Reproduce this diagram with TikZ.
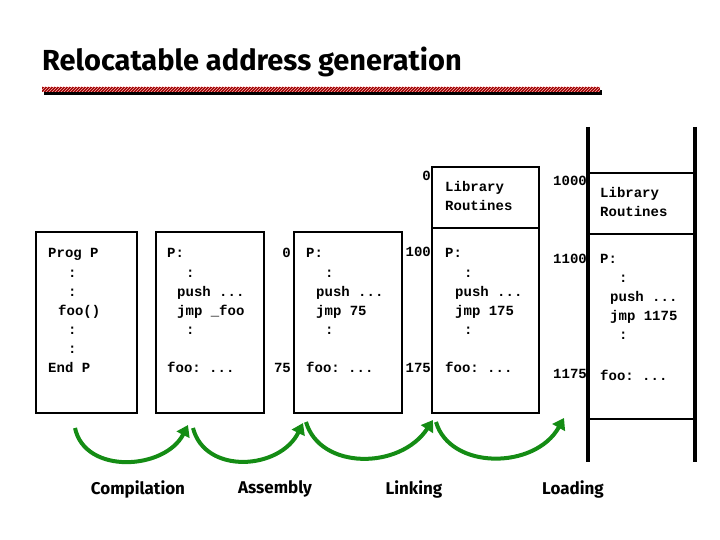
\documentclass[tikz,border=0pt]{standalone}
\usepackage{fontspec}
\setmonofont{Liberation Mono}
\newfontfamily\hand{Fira Sans}
\usetikzlibrary{arrows.meta,patterns}
\begin{document}
\begin{tikzpicture}[x=1pt,y=-1pt,
  box/.style={draw,line width=1.2pt},
  code/.style={anchor=base west,font=\ttfamily\bfseries\fontsize{14}{14}\selectfont,inner sep=0},
  addr/.style={anchor=base east,font=\ttfamily\bfseries\fontsize{14}{14}\selectfont,inner sep=0},
  stagelbl/.style={font=\hand\bfseries\fontsize{17}{17}\selectfont},
  flow/.style={draw={rgb,255:red,20;green,140;blue,20},line width=4pt,-{Triangle[length=11pt,width=14pt]}}]
\useasboundingbox (0,0) rectangle (720,540);
\node[anchor=base west,font=\hand\bfseries\fontsize{29}{29}\selectfont,inner sep=0] (title) at (42,71) {Relocatable address generation};
\fill[black] (44,90) rectangle (602,95);
\fill[red!60!black] (42,87) rectangle (600,92);
\fill[pattern=north east lines,pattern color=white!70!red] (42,87) rectangle (600,92);
% boxes
\draw[box] (36,232) rectangle (137,413);
\draw[box] (156,232) rectangle (264,413);
\draw[box] (294,232) rectangle (402,413);
\draw[box] (432,167) rectangle (539,413);
\draw[box] (432,228) -- (539,228);
\draw[line width=3.5pt] (588,127) -- (588,462);
\draw[line width=3.5pt] (695,127) -- (695,462);
\draw[line width=1.5pt] (588,173) -- (695,173);
\draw[line width=1.5pt] (588,234) -- (695,234);
\draw[line width=1.5pt] (588,419) -- (695,419);
% box1
\node[code] (a1) at (48,258) {Prog P};
\node[code] (a2) at (68,277) {:};
\node[code] (a3) at (68,296) {:};
\node[code] (a4) at (58,315) {foo()};
\node[code] (a5) at (68,334) {:};
\node[code] (a6) at (68,353) {:};
\node[code] (a7) at (48,372) {End P};
% box2
\node[code] (b1) at (167,258) {P:};
\node[code] (b2) at (186,277) {:};
\node[code] (b3) at (177,296) {push ...};
\node[code] (b4) at (177,315) {jmp \_foo};
\node[code] (b5) at (186,334) {:};
\node[code] (b6) at (167,372) {foo: ...};
% box3
\node[addr] (c0) at (291,258) {0};
\node[addr] (c75) at (291,372) {75};
\node[code] (c1) at (306,258) {P:};
\node[code] (c2) at (325,277) {:};
\node[code] (c3) at (316,296) {push ...};
\node[code] (c4) at (316,315) {jmp 75};
\node[code] (c5) at (325,334) {:};
\node[code] (c6) at (306,372) {foo: ...};
% box4
\node[addr] (d0) at (431,181) {0};
\node[addr] (d100) at (431,256) {100};
\node[addr] (d175) at (431,372) {175};
\node[code] (dl1) at (445,192) {Library};
\node[code] (dl2) at (445,211) {Routines};
\node[code] (d1) at (445,258) {P:};
\node[code] (d2) at (464,277) {:};
\node[code] (d3) at (455,296) {push ...};
\node[code] (d4) at (455,315) {jmp 175};
\node[code] (d5) at (464,334) {:};
\node[code] (d6) at (445,372) {foo: ...};
% box5
\node[addr] (e1000) at (587,186) {1000};
\node[addr] (e1100) at (587,263) {1100};
\node[addr] (e1175) at (587,378) {1175};
\node[code] (el1) at (600,198) {Library};
\node[code] (el2) at (600,217) {Routines};
\node[code] (e1) at (600,263) {P:};
\node[code] (e2) at (619,282) {:};
\node[code] (e3) at (610,301) {push ...};
\node[code] (e4) at (610,320) {jmp 1175};
\node[code] (e5) at (619,339) {:};
\node[code] (e6) at (600,380) {foo: ...};
% arrows
\coordinate (s1) at (75,428); \coordinate (t1) at (188,425);
\coordinate (s2) at (193,428); \coordinate (t2) at (303,423);
\coordinate (s3) at (306,422); \coordinate (t3) at (433,420);
\coordinate (s4) at (436,422); \coordinate (t4) at (564,418);
\draw[flow] (s1) .. controls (85,475) and (165,470) .. (t1);
\draw[flow] (s2) .. controls (205,475) and (280,470) .. (t2);
\draw[flow] (s3) .. controls (320,470) and (400,470) .. (t3);
\draw[flow] (s4) .. controls (450,470) and (535,470) .. (t4);
\node[stagelbl] (l1) at (138,489) {Compilation};
\node[stagelbl] (l2) at (275,489) {Assembly};
\node[stagelbl] (l3) at (414,489) {Linking};
\node[stagelbl] (l4) at (573,489) {Loading};
\end{tikzpicture}
\end{document}
